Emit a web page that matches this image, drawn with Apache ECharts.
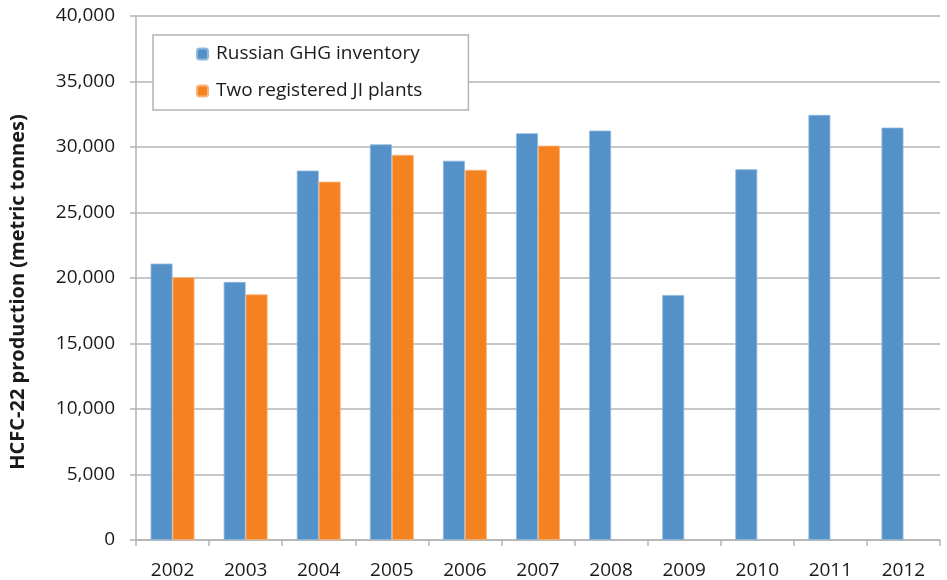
<!DOCTYPE html>
<html>
<head>
<meta charset="utf-8">
<script src="https://cdn.jsdelivr.net/npm/echarts@6/dist/echarts.min.js"></script>
<style>
  html, body { margin: 0; padding: 0; background: #fff; }
  #chart { width: 947px; height: 580px; }
</style>
</head>
<body>
<div id="chart"></div>
<script>
// years on the x axis
const years = ['2002', '2003', '2004', '2005', '2006', '2007', '2008', '2009', '2010', '2011', '2012'];
// HCFC-22 production, metric tonnes
const russianInventory = [21100, 19700, 28200, 30200, 28950, 31050, 31250, 18700, 28300, 32450, 31480];
const jiPlants = [20050, 18750, 27350, 29400, 28250, 30100, null, null, null, null, null];

const gray = '#b4b4b4';
const font = '"Open Sans", "Noto Sans", sans-serif';

let chart = echarts.init(document.getElementById('chart'));
chart.setOption({
    animation: false,
    textStyle: { fontFamily: font },
    grid: { left: 130, right: 7, top: 16, bottom: 39, containLabel: false },
    legend: {
        orient: 'vertical',
        left: 153,
        top: 35,
        padding: [9, 46, 9, 43],
        itemWidth: 11,
        itemHeight: 11,
        itemGap: 17,
        backgroundColor: '#fff',
        borderColor: gray,
        borderWidth: 1.5,
        borderRadius: 0,
        textStyle: { fontSize: 19, lineHeight: 20, color: '#1a1a1a', fontFamily: font, padding: [0, 0, 0, 3] },
        data: ['Russian GHG inventory', 'Two registered JI plants']
    },
    xAxis: {
        type: 'category',
        data: years,
        axisLine: { lineStyle: { color: gray, width: 1.5 } },
        axisTick: { show: true, length: 6, lineStyle: { color: gray, width: 1.5 } },
        axisLabel: { fontSize: 19, color: '#1a1a1a', margin: 21 }
    },
    yAxis: {
        type: 'value',
        min: 0,
        max: 40000,
        interval: 5000,
        name: 'HCFC-22 production (metric tonnes)',
        nameLocation: 'middle',
        nameGap: 108,
        nameTextStyle: { fontSize: 20, fontWeight: 'bold', color: '#1a1a1a', padding: [0, 28, 0, 0] },
        axisLine: { show: true, lineStyle: { color: gray, width: 1.5 } },
        axisTick: { show: true, length: 6, lineStyle: { color: gray, width: 1.5 } },
        splitLine: { lineStyle: { color: gray, width: 1.5 } },
        axisLabel: {
            fontSize: 19,
            color: '#1a1a1a',
            margin: 21,
            formatter: v => v.toLocaleString('en-US')
        }
    },
    series: [
        {
            name: 'Russian GHG inventory',
            type: 'bar',
            data: russianInventory,
            barGap: '0%',
            barCategoryGap: '40%',
            itemStyle: { color: '#5391c8', borderColor: '#8fb8dd', borderWidth: 0.8 }
        },
        {
            name: 'Two registered JI plants',
            type: 'bar',
            data: jiPlants,
            itemStyle: { color: '#f58220', borderColor: '#f9b27a', borderWidth: 0.8 }
        }
    ]
});
</script>
</body>
</html>
